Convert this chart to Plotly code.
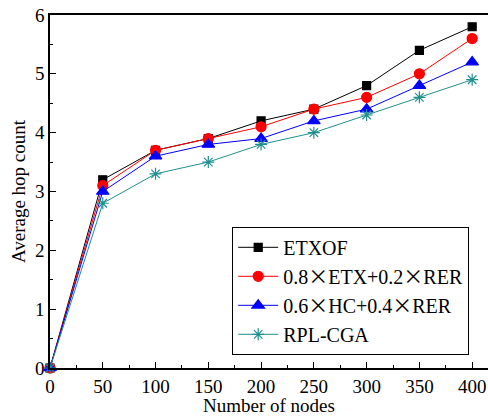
import plotly.graph_objects as go

nodes = [0, 50, 100, 150, 200, 250, 300, 350, 400]
etxof = [0, 3.2, 3.7, 3.9, 4.2, 4.4, 4.8, 5.4, 5.8]
etx_rer = [0, 3.1, 3.7, 3.9, 4.1, 4.4, 4.6, 5.0, 5.6]
hc_rer = [0, 3.0, 3.6, 3.8, 3.9, 4.2, 4.4, 4.8, 5.2]
rpl_cga = [0, 2.8, 3.3, 3.5, 3.8, 4.0, 4.3, 4.6, 4.9]

X = '<span style="font-family:Noto Sans CJK SC">×</span>'
names = ["ETXOF", f"0.8{X}ETX+0.2{X}RER", f"0.6{X}HC+0.4{X}RER", "RPL-CGA"]
series = [etxof, etx_rer, hc_rer, rpl_cga]
colors = ["#000000", "#ff0000", "#0000ff", "#1f8f8f"]
symbols = ["square", "circle", "triangle-up", "asterisk-open"]
sizes = [8, 10, 11, 10]

fig = go.Figure()
for n, s, c, sym, sz in zip(names, series, colors, symbols, sizes):
    fig.add_trace(go.Scatter(
        x=nodes, y=s, name=n, mode="lines+markers",
        line=dict(color=c, width=1),
        marker=dict(symbol=sym, size=sz, color=c, line=dict(color=c, width=1.2)),
        cliponaxis=False,
    ))

fam = "Liberation Serif, Times New Roman, serif"
tfont = dict(family=fam, size=19, color="black")
fig.update_layout(
    width=488, height=416,
    margin=dict(l=50, r=0, t=15, b=48, autoexpand=False),
    paper_bgcolor="white", plot_bgcolor="white",
    font=tfont,
    showlegend=True,
    legend=dict(x=0.416, y=0.40, xanchor="left", yanchor="top",
                bordercolor="black", borderwidth=1, bgcolor="white",
                font=dict(family=fam, size=20, color="black"),
                tracegroupgap=0, itemwidth=40),
    xaxis=dict(range=[0, 415], tickvals=nodes, ticks="inside", ticklen=6,
               tickcolor="black", showline=True, linecolor="black", linewidth=1.5,
               mirror=True, showgrid=False, zeroline=False, automargin=False,
               minor=dict(dtick=25, tick0=0, ticks="inside", ticklen=3, tickcolor="black"),
               title=dict(text="Number of nodes", standoff=0, font=tfont),
               tickfont=tfont),
    yaxis=dict(range=[0, 6], dtick=1, ticks="inside", ticklen=6,
               tickcolor="black", showline=True, linecolor="black", linewidth=1.5,
               showgrid=False, zeroline=False, automargin=False,
               minor=dict(dtick=0.5, ticks="inside", ticklen=3, tickcolor="black"),
               title=dict(text="Average hop count", standoff=4, font=tfont),
               tickfont=tfont),
)
fig.write_html("out.html", config={"displayModeBar": False},
               post_script="document.body.style.margin='0';")
